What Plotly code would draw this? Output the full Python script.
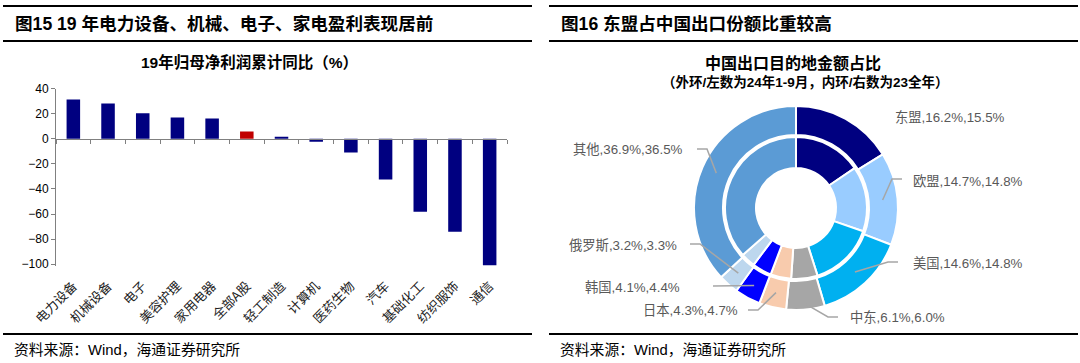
import math
import plotly.graph_objects as go

W, H = 1080, 363

# ---------------- data ----------------
industries = ["电力设备", "机械设备", "电子", "美容护理", "家用电器", "全部A股", "轻工制造",
              "计算机", "医药生物", "汽车", "基础化工", "纺织服饰", "通信"]
profit_yoy = [31.4, 28.2, 20.5, 17.0, 16.2, 5.9, 1.6, -2.4, -10.9, -32.4, -58.2, -74.2, -101.0]
highlight = "全部A股"
y_ticks = [40, 20, 0, -20, -40, -60, -80, -100]

regions = ["东盟", "欧盟", "美国", "中东", "日本", "韩国", "俄罗斯", "其他"]
share_2024_9m = [16.2, 14.7, 14.6, 6.1, 4.3, 4.1, 3.2, 36.9]   # outer ring
share_2023 = [15.5, 14.8, 14.8, 6.0, 4.7, 4.4, 3.3, 36.5]      # inner ring

# ---------------- styles ----------------
NAVY = "#000080"
RED = "#C00000"
AXIS = "#808080"
region_colors = ["#000080", "#99CCFF", "#00B0F0", "#A6A6A6", "#F8CBAD", "#0000FF", "#BDD7EE", "#5B9BD5"]
CJK = "Noto Sans CJK SC"
SANS = "Liberation Sans, Noto Sans CJK SC"


def fx(px):
    return px / W


def fy(py):
    return 1 - py / H


fig = go.Figure()

# ---------------- left: bar chart ----------------
y_min, y_max = -101.5, 40
yd = [fy(266.0), fy(88.7)]
zero_pos = yd[0] + (yd[1] - yd[0]) * (0 - y_min) / (y_max - y_min)
bar_colors = [RED if c == highlight else NAVY for c in industries]

fig.add_trace(go.Bar(x=industries, y=profit_yoy, marker=dict(color=bar_colors, line=dict(width=0)),
                     width=0.39, xaxis="x", yaxis="y", showlegend=False, hoverinfo="x+y"))
fig.add_trace(go.Scatter(x=industries, y=profit_yoy, mode="markers", marker=dict(opacity=0),
                         xaxis="x2", yaxis="y", showlegend=False, hoverinfo="skip"))

xdom = [fx(56), fx(507)]
fig.update_layout(
    xaxis=dict(domain=xdom, type="category", categoryorder="array", categoryarray=industries,
               range=[-0.5, len(industries) - 0.5], anchor="free", position=zero_pos,
               showline=True, linecolor=AXIS, linewidth=1, ticks="outside", tickson="boundaries",
               ticklen=4, tickcolor=AXIS, showticklabels=False, showgrid=False, zeroline=False,
               automargin=False),
    xaxis2=dict(domain=xdom, type="category", categoryorder="array", categoryarray=industries,
                range=[-0.5, len(industries) - 0.5], overlaying="x", anchor="y",
                showline=False, ticks="", tickangle=-45, showgrid=False, zeroline=False,
                ticklabelstandoff=9,
                tickfont=dict(family=CJK, size=13, color="#222222"), automargin=False),
    yaxis=dict(domain=yd, range=[y_min, y_max], anchor="x", tickvals=y_ticks,
               showline=True, linecolor=AXIS, linewidth=1, ticks="outside", ticklen=4,
               tickcolor=AXIS, showgrid=False, zeroline=False, automargin=False,
               tickfont=dict(family=SANS, size=12, color="#000000")),
)

# ---------------- right: double donut ----------------
cx, cy = 796, 208
R_out, R_in = 102, 71
fig.add_trace(go.Pie(values=share_2024_9m, labels=regions, hole=73 / R_out, sort=False,
                     direction="clockwise", rotation=0,
                     marker=dict(colors=region_colors, line=dict(color="white", width=2)),
                     textinfo="none", showlegend=False,
                     domain=dict(x=[fx(cx - R_out), fx(cx + R_out)], y=[fy(cy + R_out), fy(cy - R_out)])))
fig.add_trace(go.Pie(values=share_2023, labels=regions, hole=40 / R_in, sort=False,
                     direction="clockwise", rotation=0,
                     marker=dict(colors=region_colors, line=dict(color="white", width=2)),
                     textinfo="none", showlegend=False,
                     domain=dict(x=[fx(cx - R_in), fx(cx + R_in)], y=[fy(cy + R_in), fy(cy - R_in)])))

# label placement (px): text x, text y, anchor, line start x, elbow x, line y, radius of end point
label_layout = {
    "东盟": (893, 117, "left", None, None, None, None),
    "欧盟": (911, 181, "left", 902, 892, 179, 87),
    "美国": (911, 263, "left", 898, 888, 262, 87),
    "中东": (848, 317, "left", 838, 828, 317, 96),
    "日本": (740, 310, "right", 748, 758, 310, 87),
    "韩国": (682, 287, "right", 713, 713, 286, 88),
    "俄罗斯": (679, 245, "right", 690, 700, 244, 87),
    "其他": (685, 150, "right", 697, 707, 149, 87),
}
total = sum(share_2024_9m)
cum = 0.0
annotations = []
shapes = []
for name, v1, v2 in zip(regions, share_2024_9m, share_2023):
    theta = 2 * math.pi * (cum + v1 / 2) / total
    cum += v1
    tx, ty, anc, lx0, lx1, ly, r = label_layout[name]
    annotations.append(dict(x=fx(tx), y=fy(ty), xref="paper", yref="paper", xanchor=anc, yanchor="middle",
                            text=f"{name},{v1:.1f}%,{v2:.1f}%", showarrow=False,
                            font=dict(family=SANS, size=13.3, color="#595959")))
    if lx0 is not None:
        px_ = cx + r * math.sin(theta)
        py_ = cy - r * math.cos(theta)
        path = f"M {fx(lx0)},{fy(ly)} L {fx(lx1)},{fy(ly)} L {fx(px_)},{fy(py_)}"
        shapes.append(dict(type="path", path=path, xref="paper", yref="paper",
                           line=dict(color="#A6A6A6", width=1.5)))

# ---------------- frame lines ----------------
for x0, x1 in [(3, 532), (549, 1078)]:
    for yy in (6, 41, 334):
        shapes.append(dict(type="line", xref="paper", yref="paper", x0=fx(x0), x1=fx(x1),
                           y0=fy(yy), y1=fy(yy), line=dict(color="#000000", width=2)))

# ---------------- texts ----------------
texts = [
    (13, 24, "left", "<b>图15 19 年电力设备、机械、电子、家电盈利表现居前</b>", 17.6, "#000000"),
    (559, 24, "left", "<b>图16 东盟占中国出口份额比重较高</b>", 17.6, "#000000"),
    (249, 62, "center", "<b>19年归母净利润累计同比（%）</b>", 15.5, "#000000"),
    (793, 63, "center", "<b>中国出口目的地金额占比</b>", 16, "#000000"),
    (805, 82, "center", "<b>（外环/左数为24年1-9月，内环/右数为23全年）</b>", 13.5, "#000000"),
    (12, 350, "left", "资料来源：Wind，海通证券研究所", 14.8, "#000000"),
    (558, 350, "left", "资料来源：Wind，海通证券研究所", 14.8, "#000000"),
]
for tx, ty, anc, t, size, col in texts:
    annotations.append(dict(x=fx(tx), y=fy(ty), xref="paper", yref="paper", xanchor=anc, yanchor="middle",
                            text=t, showarrow=False, font=dict(family=SANS, size=size, color=col)))

fig.update_layout(
    width=W, height=H, margin=dict(l=0, r=0, t=0, b=0, autoexpand=False),
    paper_bgcolor="white", plot_bgcolor="white",
    annotations=annotations, shapes=shapes, bargap=0.6,
    font=dict(family=SANS),
)

fig.write_html("out.html", config={"displayModeBar": False},
               post_script="document.body.style.margin='0';document.body.style.overflow='hidden';")
